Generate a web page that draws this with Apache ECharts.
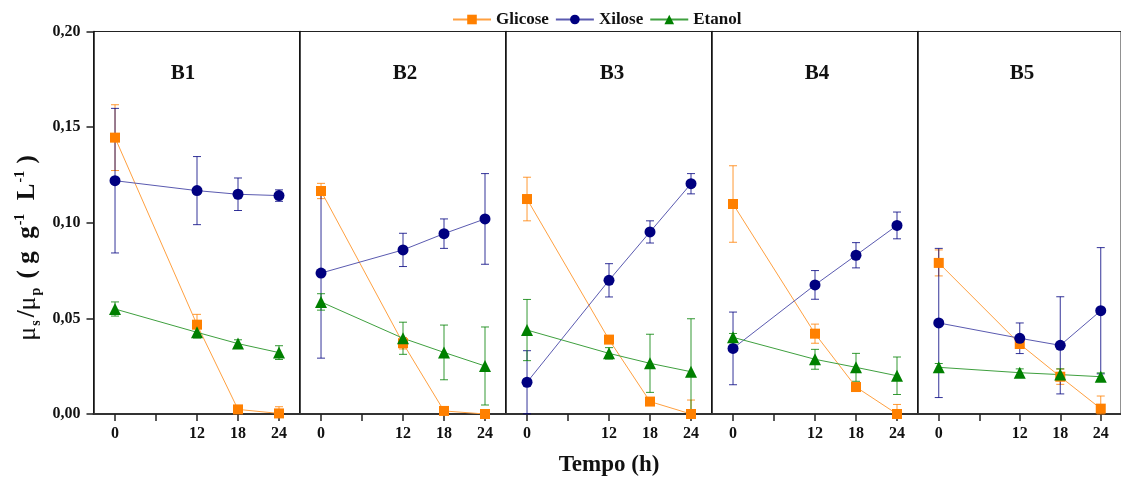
<!DOCTYPE html>
<html><head><meta charset="utf-8">
<script src="https://cdn.jsdelivr.net/npm/echarts@6/dist/echarts.min.js"></script>
<style>html,body{margin:0;padding:0;background:#fff}#c{width:1121px;height:480px}</style>
</head><body><div id="c"></div>
<script>
const panels = ['B1','B2','B3','B4','B5'];
const times = [0, 12, 18, 24];
const xTicks = [0, 6, 12, 18, 24];
const xLabels = [0, 12, 18, 24];

const glicose = [
  [0.1445, 0.0467, 0.0024, 0.0003],
  [0.1166, 0.0370, 0.0016, 0.0000],
  [0.1124, 0.0389, 0.0065, 0.0000],
  [0.1098, 0.0420, 0.0141, 0.0000],
  [0.0790, 0.0366, 0.0195, 0.0028]
];
const glicoseErr = [
  [0.0172, 0.0054, 0.0010, 0.0035],
  [0.0040, 0.0030, 0.0010, 0.0005],
  [0.0114, 0.0020, 0.0020, 0.0073],
  [0.0200, 0.0050, 0.0010, 0.0050],
  [0.0068, 0.0020, 0.0040, 0.0066]
];
const xilose = [
  [0.1220, 0.1168, 0.1149, 0.1142],
  [0.0737, 0.0858, 0.0943, 0.1020],
  [0.0166, 0.0699, 0.0952, 0.1204],
  [0.0343, 0.0675, 0.0830, 0.0986],
  [0.0476, 0.0396, 0.0359, 0.0540]
];
const xiloseErr = [
  [0.0378, 0.0178, 0.0085, 0.0030],
  [0.0445, 0.0087, 0.0077, 0.0237],
  [0.0165, 0.0087, 0.0058, 0.0053],
  [0.0190, 0.0075, 0.0066, 0.0070],
  [0.0390, 0.0080, 0.0254, 0.0330]
];
const etanol = [
  [0.0549, 0.0427, 0.0368, 0.0321],
  [0.0586, 0.0396, 0.0322, 0.0251],
  [0.0439, 0.0317, 0.0265, 0.0221],
  [0.0401, 0.0286, 0.0244, 0.0200],
  [0.0244, 0.0216, 0.0206, 0.0195]
];
const etanolErr = [
  [0.0037, 0.0030, 0.0020, 0.0036],
  [0.0043, 0.0084, 0.0143, 0.0204],
  [0.0160, 0.0030, 0.0152, 0.0277],
  [0.0020, 0.0052, 0.0073, 0.0098],
  [0.0020, 0.0020, 0.0030, 0.0020]
];

const FONT = '"Liberation Serif", "Times New Roman", serif';
const defs = [
  {name: 'Glicose', vals: glicose, errs: glicoseErr, symbol: 'rect', size: 10, mark: '#FF8000', line: '#FFA040'},
  {name: 'Xilose', vals: xilose, errs: xiloseErr, symbol: 'circle', size: 11, mark: '#000080', line: '#5A5AB0'},
  {name: 'Etanol', vals: etanol, errs: etanolErr, symbol: 'triangle', size: 12, mark: '#008000', line: '#3FA03F'}
];

const L0 = 93.5, PW = 206, TOP = 31.5, PH = 382.5;
const grids = [], xAxes = [], yAxes = [], series = [];

function errRender(color) {
  return function (params, api) {
    const x = api.value(0), y = api.value(1), e = api.value(2);
    const t = api.coord([x, y + e]);
    const b = api.coord([x, Math.max(0, y - e)]);
    const w = 4;
    const st = {stroke: color, lineWidth: 1, opacity: 0.8};
    return {type: 'group', children: [
      {type: 'line', shape: {x1: t[0], y1: t[1], x2: b[0], y2: b[1]}, style: st},
      {type: 'line', shape: {x1: t[0] - w, y1: t[1], x2: t[0] + w, y2: t[1]}, style: st},
      {type: 'line', shape: {x1: b[0] - w, y1: b[1], x2: b[0] + w, y2: b[1]}, style: st}
    ]};
  };
}

panels.forEach((p, i) => {
  grids.push({left: L0 + i * PW, top: TOP, width: PW, height: PH, show: true,
    borderColor: '#222', borderWidth: 1, backgroundColor: 'transparent', containLabel: false});
  xAxes.push({type: 'value', gridIndex: i, min: -3.15, max: 27.0,
    axisLine: {show: true, onZero: false, lineStyle: {color: '#333', width: 2}},
    axisTick: {show: true, customValues: xTicks, length: 7, lineStyle: {color: '#222', width: 1.5}},
    axisLabel: {show: true, customValues: xLabels, margin: 12,
      fontFamily: FONT, fontWeight: 'bold', fontSize: 16, color: '#111'},
    splitLine: {show: false}});
  yAxes.push({type: 'value', gridIndex: i, min: 0, max: 0.2, interval: 0.05,
    axisLine: {show: true, onZero: false, lineStyle: {color: '#111', width: 1.5}},
    axisTick: {show: i === 0, length: 7, lineStyle: {color: '#222', width: 1.5}},
    axisLabel: {show: i === 0, margin: 13, fontFamily: FONT, fontWeight: 'bold', fontSize: 16, color: '#111',
      formatter: v => v.toFixed(2).replace('.', ',')},
    splitLine: {show: false}});
  defs.forEach(d => {
    series.push({type: 'custom', name: d.name + ' err', xAxisIndex: i, yAxisIndex: i, z: 2,
      renderItem: errRender(d.mark), silent: true,
      data: times.map((t, k) => [t, d.vals[i][k], d.errs[i][k]])});
  });
  defs.forEach(d => {
    series.push({type: 'line', name: d.name, xAxisIndex: i, yAxisIndex: i, z: 3,
      symbol: d.symbol, symbolSize: d.size, showAllSymbol: true,
      itemStyle: {color: d.mark, borderWidth: 0},
      lineStyle: {color: d.line, width: 1},
      data: times.map((t, k) => [t, d.vals[i][k]])});
  });
});

const titleX = [183, 405, 612, 817, 1022];
const graphic = panels.map((p, i) => ({type: 'text', x: titleX[i], y: 74, z: 10,
  style: {text: p, fontFamily: FONT, fontWeight: 'bold', fontSize: 21, fill: '#111',
    textAlign: 'center', textVerticalAlign: 'middle'}}));
graphic.push({type: 'text', x: 609, y: 465,
  style: {text: 'Tempo (h)', fontFamily: FONT, fontWeight: 'bold', fontSize: 23, fill: '#111',
    textAlign: 'center', textVerticalAlign: 'middle'}});
graphic.push({type: 'text', x: 28, y: 248, rotation: Math.PI / 2,
  style: {text: '{m|μ}{sub|s}{n|/}{m|μ}{sub|p}{n| ( g  g}{sup|-1}{n|  L}{sup|-1}{n| )}',
    textAlign: 'center', textVerticalAlign: 'middle', fill: '#111',
    rich: {
      m: {fontFamily: FONT, fontSize: 26, lineHeight: 30, fill: '#111'},
      n: {fontFamily: FONT, fontWeight: 'bold', fontSize: 25, lineHeight: 30, fill: '#111'},
      sub: {fontFamily: FONT, fontWeight: 'bold', fontSize: 14, verticalAlign: 'bottom', fill: '#111', padding: [0, 3, 0, 1]},
      sup: {fontFamily: FONT, fontWeight: 'bold', fontSize: 14, verticalAlign: 'top', fill: '#111', padding: [0, 1, 0, 1]}
    }}});

const chart = echarts.init(document.getElementById('c'), null, {renderer: 'canvas'});
chart.setOption({
  animation: false,
  backgroundColor: '#fff',
  legend: {data: ['Glicose', 'Xilose', 'Etanol'], left: 447, top: 6, itemWidth: 38, itemHeight: 12, itemGap: 6,
    textStyle: {fontFamily: FONT, fontWeight: 'bold', fontSize: 17, color: '#111'}},
  grid: grids, xAxis: xAxes, yAxis: yAxes, series: series, graphic: graphic
});
</script></body></html>
